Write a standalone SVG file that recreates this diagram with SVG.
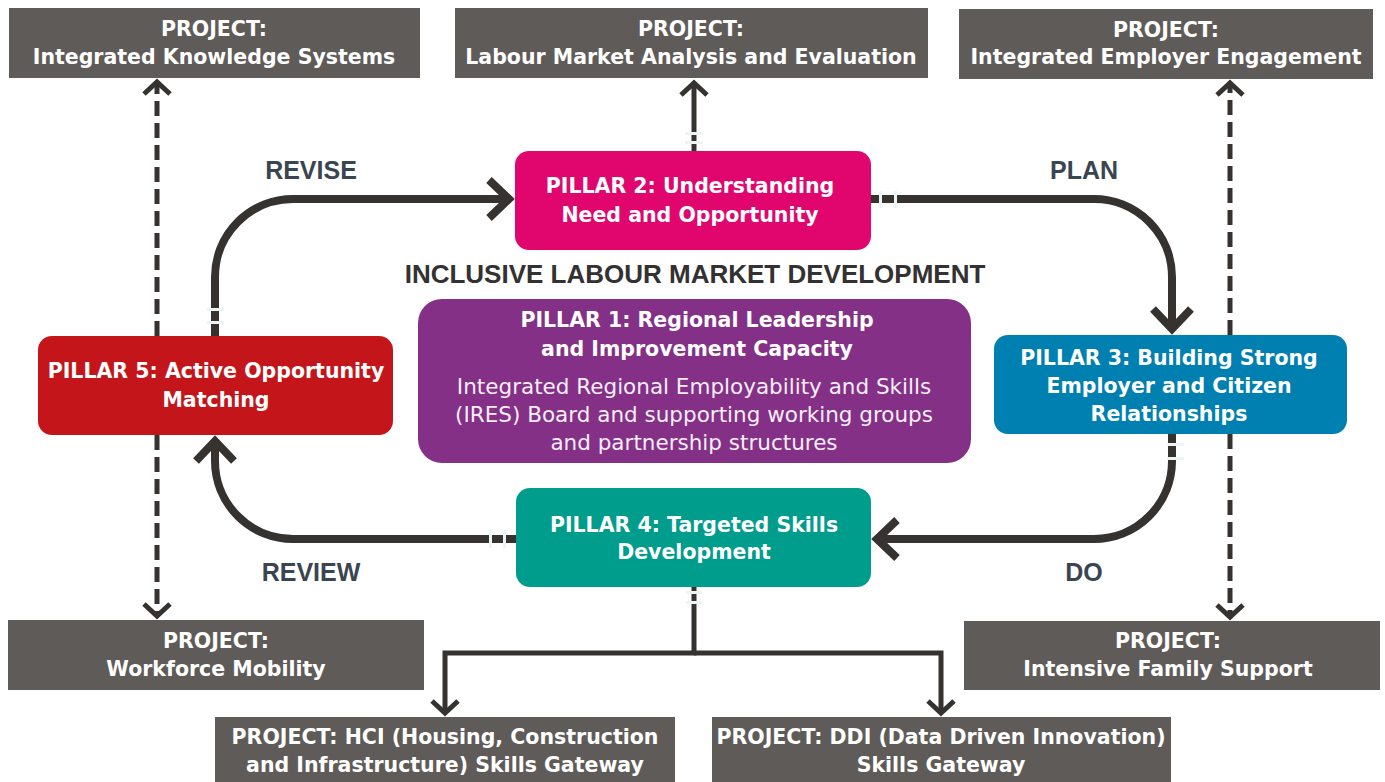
<svg xmlns="http://www.w3.org/2000/svg" width="1385" height="782" viewBox="0 0 1385 782">
<style>
.proj{fill:#5f5b58}
.pt{font-family:"DejaVu Sans","Open Sans",sans-serif;font-weight:700;font-size:20.5px;fill:#ffffff;text-anchor:middle}
.pil{font-family:"DejaVu Sans","Open Sans",sans-serif;font-weight:700;font-size:20.5px;fill:#ffffff;text-anchor:middle}
.body{font-family:"DejaVu Sans","Open Sans",sans-serif;font-weight:400;font-size:21.5px;fill:#f6eef6;text-anchor:middle}
.lbl{font-family:"Liberation Sans",Arial,sans-serif;font-weight:700;font-size:25px;fill:#3a4552;text-anchor:middle}
.title{font-family:"Liberation Sans",Arial,sans-serif;font-weight:700;font-size:26px;fill:#333131;text-anchor:middle}
.loop{fill:none;stroke:#363230;stroke-width:8;marker-end:url(#big)}
.dash{fill:none;stroke:#363230;stroke-width:5;stroke-dasharray:15 7;marker-end:url(#small)}
.solid{fill:none;stroke:#363230;stroke-width:5;marker-end:url(#small)}
.gap{fill:#eef3f3}
</style>
<defs>
<marker id="big" markerUnits="userSpaceOnUse" viewBox="-30 -30 60 60" markerWidth="60" markerHeight="60" refX="0" refY="0" orient="auto" overflow="visible">
<path d="M -20 -19 L 0 0 L -20 19" fill="none" stroke="#363230" stroke-width="8" stroke-linejoin="miter"/>
</marker>
<marker id="small" markerUnits="userSpaceOnUse" viewBox="-30 -30 60 60" markerWidth="60" markerHeight="60" refX="0" refY="0" orient="auto" overflow="visible">
<path d="M -12 -13 L 0 0 L -12 13" fill="none" stroke="#363230" stroke-width="5" stroke-linejoin="miter"/>
</marker>
</defs>
<rect width="1385" height="782" fill="#ffffff"/>

<g id="connectors">
<path class="loop" d="M 215 336 V 277 A 78 78 0 0 1 293 199 H 509"/>
<path class="loop" d="M 871 199 H 1094 A 78 78 0 0 1 1172 277 V 329"/>
<path class="loop" d="M 1172 434 V 461 A 78 78 0 0 1 1094 539 H 877"/>
<path class="loop" d="M 516 539 H 293 A 78 78 0 0 1 215 461 V 441"/>
<path class="dash" d="M 157 336 V 82"/>
<path class="dash" d="M 157 435 V 616"/>
<path class="dash" d="M 1230 335 V 83"/>
<path class="dash" d="M 1230 434 V 617"/>
<path class="solid" d="M 694 151 V 83"/>
<path class="solid" d="M 694 587 V 653 H 445 V 713"/>
<path class="solid" d="M 694 653 H 941 V 713"/>
<rect class="gap" x="685" y="132" width="18" height="3"/>
<rect class="gap" x="685" y="141" width="18" height="3"/>
<rect class="gap" x="879" y="191" width="3" height="17"/>
<rect class="gap" x="894" y="191" width="3" height="17"/>
<rect class="gap" x="207" y="308" width="17" height="3"/>
<rect class="gap" x="207" y="321" width="17" height="3"/>
<rect class="gap" x="1167" y="443" width="17" height="3"/>
<rect class="gap" x="1167" y="457" width="17" height="3"/>
<rect class="gap" x="489" y="530" width="3" height="18"/>
<rect class="gap" x="503" y="530" width="3" height="18"/>
<rect class="gap" x="686" y="591" width="16" height="3"/>
<rect class="gap" x="686" y="601" width="16" height="3"/>
</g>

<g id="labels">
<text class="lbl" x="311" y="179">REVISE</text>
<text class="lbl" x="1084" y="179">PLAN</text>
<text class="lbl" x="1084" y="581">DO</text>
<text class="lbl" x="311" y="581">REVIEW</text>
<text class="title" x="695" y="283">INCLUSIVE LABOUR MARKET DEVELOPMENT</text>
</g>

<g id="project-iks">
<rect class="proj" x="9" y="8" width="411" height="70"/>
<text class="pt" x="214" y="36">PROJECT:</text>
<text class="pt" x="214" y="64">Integrated Knowledge Systems</text>
</g>
<g id="project-lmae">
<rect class="proj" x="455" y="8" width="473" height="70"/>
<text class="pt" x="691" y="36">PROJECT:</text>
<text class="pt" x="691" y="64">Labour Market Analysis and Evaluation</text>
</g>
<g id="project-iee">
<rect class="proj" x="959" y="9" width="414" height="70"/>
<text class="pt" x="1166" y="37">PROJECT:</text>
<text class="pt" x="1166" y="64">Integrated Employer Engagement</text>
</g>

<g id="pillar2">
<rect x="515" y="151" width="356" height="99" rx="14" fill="#e0066e"/>
<text class="pil" x="690" y="193">PILLAR 2: Understanding</text>
<text class="pil" x="690" y="222">Need and Opportunity</text>
</g>

<g id="pillar1">
<rect x="418" y="299" width="553" height="164" rx="24" fill="#843087"/>
<text class="pil" x="697" y="327">PILLAR 1: Regional Leadership</text>
<text class="pil" x="697" y="356">and Improvement Capacity</text>
<text class="body" x="694" y="394">Integrated Regional Employability and Skills</text>
<text class="body" x="694" y="422">(IRES) Board and supporting working groups</text>
<text class="body" x="694" y="450">and partnership structures</text>
</g>

<g id="pillar3">
<rect x="994" y="335" width="353" height="99" rx="14" fill="#0080b0"/>
<text class="pil" x="1169" y="365">PILLAR 3: Building Strong</text>
<text class="pil" x="1169" y="393">Employer and Citizen</text>
<text class="pil" x="1169" y="421">Relationships</text>
</g>

<g id="pillar4">
<rect x="516" y="488" width="355" height="99" rx="14" fill="#009c8c"/>
<text class="pil" x="694" y="532">PILLAR 4: Targeted Skills</text>
<text class="pil" x="694" y="559">Development</text>
</g>

<g id="pillar5">
<rect x="38" y="336" width="355" height="99" rx="14" fill="#c4161a"/>
<text class="pil" x="216" y="378">PILLAR 5: Active Opportunity</text>
<text class="pil" x="216" y="407">Matching</text>
</g>

<g id="project-wm">
<rect class="proj" x="8" y="620" width="416" height="70"/>
<text class="pt" x="216" y="648">PROJECT:</text>
<text class="pt" x="216" y="676">Workforce Mobility</text>
</g>
<g id="project-ifs">
<rect class="proj" x="964" y="621" width="416" height="69"/>
<text class="pt" x="1168" y="648">PROJECT:</text>
<text class="pt" x="1168" y="676">Intensive Family Support</text>
</g>
<g id="project-hci">
<rect class="proj" x="215" y="717" width="460" height="65"/>
<text class="pt" x="445" y="744">PROJECT: HCI (Housing, Construction</text>
<text class="pt" x="445" y="772">and Infrastructure) Skills Gateway</text>
</g>
<g id="project-ddi">
<rect class="proj" x="712" y="717" width="459" height="65"/>
<text class="pt" x="941" y="744">PROJECT: DDI (Data Driven Innovation)</text>
<text class="pt" x="941" y="772">Skills Gateway</text>
</g>
</svg>
